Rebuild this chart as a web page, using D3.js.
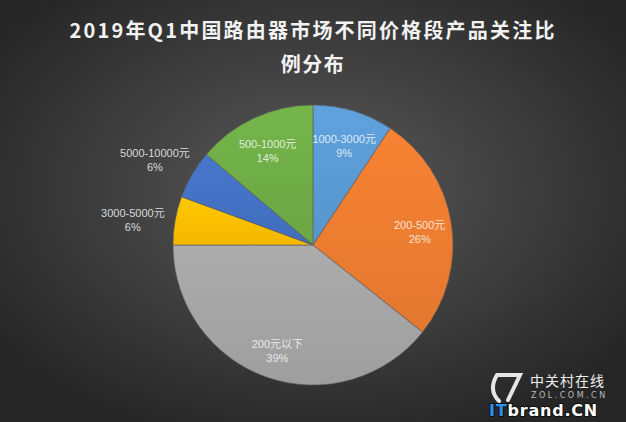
<!DOCTYPE html>
<html><head><meta charset="utf-8">
<script src="https://cdn.jsdelivr.net/npm/d3@7/dist/d3.min.js"></script>
<style>html,body{margin:0;padding:0;background:#333;overflow:hidden}</style>
</head><body><svg id="c" width="626" height="422"></svg>
<script>
const titleLines = ["2019年Q1中国路由器市场不同价格段产品关注比", "例分布"];
const categories = ["1000-3000元", "200-500元", "200元以下", "3000-5000元", "5000-10000元", "500-1000元"];
const values = [9.3, 26.4, 39.3, 5.6, 5.6, 13.8];
const colors = ["#5B9BD5", "#ED7D31", "#A5A5A5", "#FFC000", "#4472C4", "#70AD47"];

const W = 626, H = 422;
const svg = d3.select("#c");
const defs = svg.append("defs");
const bg = defs.append("radialGradient").attr("id","bg").attr("cx","50%").attr("cy","45%").attr("r","62%");
bg.append("stop").attr("offset","0%").attr("stop-color","#5a5a5a");
bg.append("stop").attr("offset","100%").attr("stop-color","#262626");
svg.append("rect").attr("width",W).attr("height",H).attr("fill","url(#bg)");

// title
svg.append("g").selectAll("text").data(titleLines).join("text")
  .attr("x", W/2).attr("y",(d,i)=>38+i*34)
  .attr("text-anchor","middle")
  .attr("fill","#f2f2f2")
  .attr("font-family","'Noto Sans CJK SC','DejaVu Sans',sans-serif")
  .attr("font-weight","bold").attr("font-size",20)
  .attr("letter-spacing",(d,i)=> i===0 ? 2.2 : 1.5)
  .text(d=>d);

const cx = 313, cy = 245, R = 140;
const total = d3.sum(values);
const data = categories.map((c,i)=>({cat:c, value:values[i], color:colors[i]}));
const pie = d3.pie().sort(null).value(d=>d.value);
const arcs = pie(data);
const arc = d3.arc().innerRadius(0).outerRadius(R);

data.forEach((d,i)=>{
  const g = defs.append("linearGradient").attr("id","g"+i).attr("x1","0").attr("y1","0").attr("x2","0").attr("y2","1");
  g.append("stop").attr("offset","0%").attr("stop-color", d3.color(d.color).brighter(0.12));
  g.append("stop").attr("offset","100%").attr("stop-color", d3.color(d.color).darker(0.12));
});

const gp = svg.append("g").attr("transform",`translate(${cx},${cy})`);
gp.selectAll("path").data(arcs).join("path")
  .attr("d", arc)
  .attr("fill",(d,i)=>`url(#g${i})`)
  .attr("stroke","#5a5a5a").attr("stroke-width",0.6);

const fmt = d3.format(".0%");
const inArc = d3.arc().innerRadius(108).outerRadius(108);
const outArc = d3.arc().innerRadius(183).outerRadius(183);
const isOut = d => d.data.value/total < 0.07;
const lab = gp.selectAll("text.lab").data(arcs).join("text").attr("class","lab")
  .attr("transform", d=>{
    const p = (isOut(d) ? outArc : inArc).centroid(d);
    return `translate(${p[0]},${p[1] + (isOut(d) ? 4 : 1)})`;
  })
  .attr("text-anchor","middle")
  .attr("font-family","'Liberation Sans','Noto Sans CJK SC',sans-serif")
  .attr("font-size",11)
  .attr("fill", d=> isOut(d) ? "#d9d9d9" : "#ffffff")
  .attr("fill-opacity", d=> isOut(d) ? 1 : 0.8);
lab.append("tspan").attr("x",0).attr("dy",0).text(d=>d.data.cat);
lab.append("tspan").attr("x",0).attr("dy",14).text(d=>fmt(d.data.value/total));

// watermark
const wm = svg.append("g");
wm.append("path").attr("d","M497,375 L520,375 L508,400 M497,375 Q488,390 499,401")
  .attr("fill","none").attr("stroke","#e6e6e6").attr("stroke-width",4).attr("stroke-linecap","round");
wm.append("text").attr("x",530).attr("y",386).attr("fill","#f0f0f0")
  .attr("font-family","'Noto Sans CJK SC',sans-serif").attr("font-size",14).attr("letter-spacing",1).text("中关村在线");
wm.append("text").attr("x",531).attr("y",398).attr("fill","#bbbbbb")
  .attr("font-family","'DejaVu Sans',sans-serif").attr("font-size",8).attr("letter-spacing",2.5).text("ZOL.COM.CN");
const it = wm.append("text").attr("x",489).attr("y",416)
  .attr("font-family","'DejaVu Sans',sans-serif").attr("font-weight","bold").attr("font-size",16)
  .attr("letter-spacing",0.8)
  .attr("stroke","#111").attr("stroke-width",2).attr("paint-order","stroke");
it.append("tspan").attr("fill","#2f8ff0").text("IT");
it.append("tspan").attr("fill","#ffffff").text("brand.CN");
</script></body></html>
